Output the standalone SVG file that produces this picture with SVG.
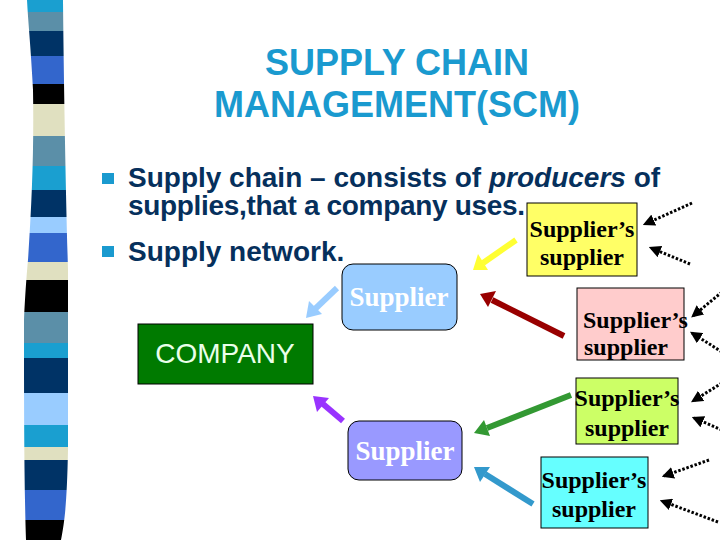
<svg xmlns="http://www.w3.org/2000/svg" width="720" height="540" viewBox="0 0 720 540">
<style>
.title{font-family:"Liberation Sans",Arial,sans-serif;font-size:36px;font-weight:bold;fill:#1a9acf;text-anchor:middle}
.body{font-family:"Liberation Sans",Arial,sans-serif;font-size:28px;font-weight:bold;fill:#06305c}
.ss{font-family:"Liberation Serif","Times New Roman",serif;font-size:24px;font-weight:bold;fill:#000}
.sup{font-family:"Liberation Serif","Times New Roman",serif;font-size:27px;font-weight:bold;fill:#fff;text-anchor:middle}
.box{stroke:#000;stroke-width:1}
.dot{fill:none;stroke:#000;stroke-width:3;stroke-dasharray:2.5 1.8;marker-end:url(#dh)}
</style>
<defs>
<clipPath id="bar"><path d="M27,0 L63,0 C64,100 66,200 68,270 L68,450 C67,500 65,520 61,540 L26,540 C24,480 24,400 24,320 C26,280 28,260 28,260 C32,200 34,150 33,90 C31,50 28,20 27,0 Z"/></clipPath>
<marker id="dh" viewBox="0 0 10 10" refX="8" refY="5" markerWidth="4" markerHeight="4" orient="auto" markerUnits="strokeWidth"><path d="M0,0 L10,5 L0,10 Z" fill="#000"/></marker>
</defs>
<rect width="720" height="540" fill="#fff"/>
<g id="stripes" clip-path="url(#bar)">
<rect x="0" y="0" width="80" height="12" fill="#1a9fd0"/>
<rect x="0" y="12" width="80" height="19" fill="#5b8fa8"/>
<rect x="0" y="31" width="80" height="25" fill="#003366"/>
<rect x="0" y="56" width="80" height="28" fill="#3366cc"/>
<rect x="0" y="84" width="80" height="20" fill="#000"/>
<rect x="0" y="104" width="80" height="32" fill="#e0e0c0"/>
<rect x="0" y="136" width="80" height="30" fill="#5b8fa8"/>
<rect x="0" y="166" width="80" height="24" fill="#1a9fd0"/>
<rect x="0" y="190" width="80" height="27" fill="#003366"/>
<rect x="0" y="217" width="80" height="16" fill="#99ccff"/>
<rect x="0" y="233" width="80" height="29" fill="#3366cc"/>
<rect x="0" y="262" width="80" height="18" fill="#e0e0c0"/>
<rect x="0" y="280" width="80" height="32" fill="#000"/>
<rect x="0" y="312" width="80" height="31" fill="#5b8fa8"/>
<rect x="0" y="343" width="80" height="15" fill="#1a9fd0"/>
<rect x="0" y="358" width="80" height="35" fill="#003366"/>
<rect x="0" y="393" width="80" height="32" fill="#99ccff"/>
<rect x="0" y="425" width="80" height="22" fill="#1a9fd0"/>
<rect x="0" y="447" width="80" height="13" fill="#e0e0c0"/>
<rect x="0" y="460" width="80" height="30" fill="#003366"/>
<rect x="0" y="490" width="80" height="30" fill="#3366cc"/>
<rect x="0" y="520" width="80" height="20" fill="#000"/>
</g>
<g id="title">
<text class="title" x="397" y="75">SUPPLY CHAIN</text>
<text class="title" x="397" y="117">MANAGEMENT(SCM)</text>
</g>
<g id="bullets">
<rect x="102" y="173" width="12" height="11" fill="#1a9acf"/>
<rect x="102" y="246" width="12" height="11" fill="#1a9acf"/>
<text class="body" x="128" y="187">Supply chain – consists of <tspan font-style="italic">producers</tspan> of</text>
<text class="body" x="128" y="215" textLength="397" lengthAdjust="spacing">supplies,that a company uses.</text>
<text class="body" x="128" y="261">Supply network.</text>
</g>
<g id="connectors">
<g stroke-linecap="butt">
<line x1="337" y1="288" x2="315" y2="309" stroke="#99ccff" stroke-width="6"/>
<polygon points="306,318 309,301 322,314" fill="#99ccff"/>
<line x1="516" y1="240" x2="483" y2="263" stroke="#ffff33" stroke-width="6"/>
<polygon points="473,270 478,254 488,270" fill="#ffff33"/>
<line x1="564" y1="336" x2="492" y2="300" stroke="#990000" stroke-width="6"/>
<polygon points="480,294 496,291 488,307" fill="#990000"/>
<line x1="343" y1="421" x2="323" y2="404" stroke="#9933ff" stroke-width="6"/>
<polygon points="313,396 329,398 317,412" fill="#9933ff"/>
<line x1="571" y1="395" x2="487" y2="428" stroke="#339933" stroke-width="6"/>
<polygon points="474,433 484,420 490,436" fill="#339933"/>
<line x1="533" y1="504" x2="485" y2="474" stroke="#3399cc" stroke-width="6"/>
<polygon points="474,467 490,467 480,482" fill="#3399cc"/>
</g>
<path class="dot" d="M692,203 L645,224"/>
<path class="dot" d="M690,264 L651,248"/>
<path class="dot" d="M722,292 L693,316"/>
<path class="dot" d="M722,352 L692,333"/>
<path class="dot" d="M722,383 L693,401"/>
<path class="dot" d="M722,430 L694,418"/>
<path class="dot" d="M709,460 L664,476"/>
<path class="dot" d="M718,522 L662,501"/>
</g>
<g id="supplier1">
<rect class="box" x="342" y="264" width="115" height="66" rx="11" fill="#99ccff"/>
<text class="sup" x="399" y="306">Supplier</text>
</g>
<g id="company">
<rect class="box" x="138" y="324" width="175" height="60" fill="#007a00"/>
<text x="225" y="363" font-family="Liberation Sans, Arial, sans-serif" font-size="28" fill="#eaffea" text-anchor="middle">COMPANY</text>
</g>
<g id="supplier2">
<rect class="box" x="348" y="421" width="114" height="59" rx="11" fill="#9999ff"/>
<text class="sup" x="405" y="460">Supplier</text>
</g>
<g id="ss-yellow">
<rect class="box" x="527" y="203" width="110" height="73" fill="#ffff66"/>
<text class="ss" x="582" y="237" text-anchor="middle">Supplier’s</text>
<text class="ss" x="582" y="265" text-anchor="middle">supplier</text>
</g>
<g id="ss-pink">
<rect class="box" x="577" y="288" width="107" height="72" fill="#ffcccc"/>
<text class="ss" x="583" y="328">Supplier’s</text>
<text class="ss" x="584" y="355">supplier</text>
</g>
<g id="ss-lime">
<rect class="box" x="576" y="378" width="102" height="66" fill="#ccff66"/>
<text class="ss" x="627" y="406" text-anchor="middle">Supplier’s</text>
<text class="ss" x="627" y="436" text-anchor="middle">supplier</text>
</g>
<g id="ss-cyan">
<rect class="box" x="541" y="457" width="107" height="71" fill="#66ffff"/>
<text class="ss" x="594" y="488" text-anchor="middle">Supplier’s</text>
<text class="ss" x="594" y="517" text-anchor="middle">supplier</text>
</g>
</svg>
